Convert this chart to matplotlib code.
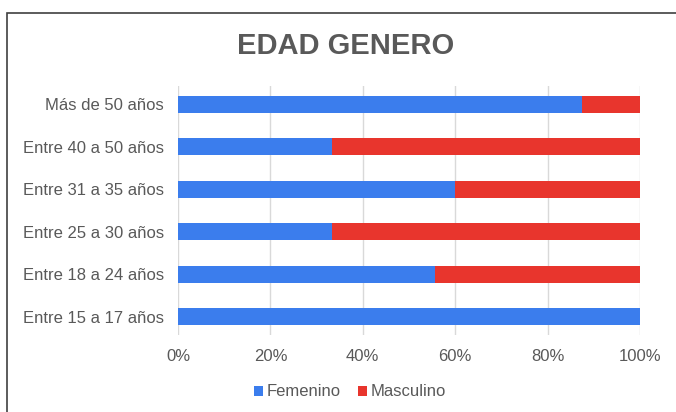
import numpy as np
import matplotlib
matplotlib.use('Agg')
import matplotlib.pyplot as plt
from matplotlib.patches import Rectangle

plt.rcParams['font.family'] = ['Liberation Sans', 'DejaVu Sans']

categorias = ['Entre 15 a 17 años', 'Entre 18 a 24 años', 'Entre 25 a 30 años',
              'Entre 31 a 35 años', 'Entre 40 a 50 años', 'Más de 50 años']
femenino = [100.0, 55.6, 33.3, 60.0, 33.3, 87.5]
masculino = [0.0, 44.4, 66.7, 40.0, 66.7, 12.5]
ticks = [0, 20, 40, 60, 80, 100]

azul = '#3b7ded'
rojo = '#e8352d'
gris = '#595959'

fig = plt.figure(figsize=(6.76, 4.12), dpi=100)
fig.patches.append(Rectangle((7 / 676, -0.1), 1.1, 1 - 13 / 412 + 0.1,
                             transform=fig.transFigure, fill=False,
                             edgecolor='#404040', linewidth=1.2))

ax = fig.add_axes([178 / 676, 1 - 335 / 412, 462 / 676, 249 / 412])
y = np.arange(len(categorias))
ax.barh(y, femenino, height=0.4, color=azul, label='Femenino', zorder=3)
ax.barh(y, masculino, left=femenino, height=0.4, color=rojo, label='Masculino', zorder=3)

ax.set_xlim(0, 100)
ax.set_ylim(-0.43, 5.43)
ax.set_xticks(ticks)
ax.set_xticklabels([f'{t}%' for t in ticks])
ax.set_yticks(y)
ax.set_yticklabels(categorias)
ax.tick_params(length=0, labelsize=12, colors=gris)
ax.tick_params(axis='x', pad=10)
ax.tick_params(axis='y', pad=10)
ax.grid(axis='x', color='#d9d9d9', linewidth=1, zorder=0)
for s in ax.spines.values():
    s.set_visible(False)

fig.text(346 / 676, 1 - 46 / 412, 'EDAD GENERO', ha='center', va='center',
         fontsize=21, fontweight='bold', color=gris)

fig.legend(loc='center', bbox_to_anchor=(350 / 676, 1 - 392 / 412), ncol=2,
           frameon=False, fontsize=12, handlelength=0.55, handleheight=0.55,
           handletextpad=0.25, columnspacing=1.0, labelcolor=gris)

plt.savefig('out.png', dpi=100)
